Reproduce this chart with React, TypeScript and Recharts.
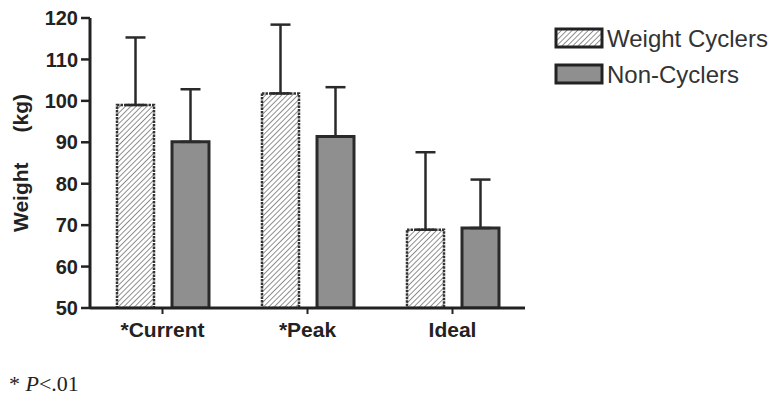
import React from "react";
import { BarChart, Bar, XAxis, YAxis, ErrorBar } from "recharts";

const categories = ["*Current", "*Peak", "Ideal"];
const cyclersMean = [99, 101.8, 68.9];
const cyclersSD = [16.3, 16.6, 18.7];
const nonCyclersMean = [90.1, 91.4, 69.3];
const nonCyclersSD = [12.7, 11.9, 11.7];
const yTicks = [50, 60, 70, 80, 90, 100, 110, 120];
const seriesNames = ["Weight Cyclers", "Non-Cyclers"];

const data = categories.map((name, i) => ({
  name,
  wc: cyclersMean[i],
  wcErr: [0, cyclersSD[i]],
  nc: nonCyclersMean[i],
  ncErr: [0, nonCyclersSD[i]],
}));

const SANS = "'Liberation Sans', Arial, Helvetica, sans-serif";
const DARK = "#222";

export default function App() {
  return (
    <div style={{ position: "absolute", left: 0, top: 0, width: 780, height: 403, background: "#fff" }}>
      <svg width={0} height={0} style={{ position: "absolute" }}>
        <defs>
          <pattern id="hatch" patternUnits="userSpaceOnUse" width={3.8} height={3.8} patternTransform="rotate(45)">
            <rect width={3.8} height={3.8} fill="#fff" />
            <line x1={0} y1={0} x2={0} y2={3.8} stroke="#555" strokeWidth={1.3} />
          </pattern>
        </defs>
      </svg>
      <BarChart
        width={780}
        height={403}
        data={data}
        margin={{ top: 18, right: 255, bottom: 65, left: 0 }}
        barSize={37}
        barGap={18}
      >
        <XAxis
          dataKey="name"
          axisLine={{ stroke: DARK, strokeWidth: 3 }}
          tickLine={{ stroke: DARK, strokeWidth: 2 }}
          tickSize={6}
          tickMargin={8}
          height={30}
          tick={{ fill: DARK, fontSize: 21, fontWeight: 700, fontFamily: SANS }}
          interval={0}
        />
        <YAxis
          domain={[50, 120]}
          ticks={yTicks}
          allowDataOverflow
          width={90}
          axisLine={{ stroke: DARK, strokeWidth: 3 }}
          tickLine={{ stroke: DARK, strokeWidth: 2.5 }}
          tickSize={9}
          tickMargin={3}
          tick={{ fill: DARK, fontSize: 20, fontWeight: 700, fontFamily: SANS }}
        />
        <Bar
          dataKey="wc"
          name={seriesNames[0]}
          fill="url(#hatch)"
          stroke="#333"
          strokeWidth={2.5}
          strokeDasharray="2.5 1"
          isAnimationActive={false}
        >
          <ErrorBar dataKey="wcErr" direction="y" width={10} stroke="#2a2a2a" strokeWidth={2.5} />
        </Bar>
        <Bar
          dataKey="nc"
          name={seriesNames[1]}
          fill="#8f8f8f"
          stroke="#2a2a2a"
          strokeWidth={3}
          isAnimationActive={false}
        >
          <ErrorBar dataKey="ncErr" direction="y" width={10} stroke="#2a2a2a" strokeWidth={2.5} />
        </Bar>
      </BarChart>
      <svg width={780} height={403} style={{ position: "absolute", left: 0, top: 0, pointerEvents: "none" }}>
        <text
          x={28}
          y={163}
          transform="rotate(-90, 28, 163)"
          textAnchor="middle"
          fontFamily={SANS}
          fontWeight={700}
          fontSize={21}
          fill={DARK}
        >
          <tspan>Weight</tspan>
          <tspan dx={30}>(kg)</tspan>
        </text>
        <rect x={556} y={29} width={46} height={18} fill="url(#hatch)" stroke="#222" strokeWidth={3} />
        <text x={607} y={47} fontFamily={SANS} fontSize={24} fill="#333">{seriesNames[0]}</text>
        <rect x={556} y={65} width={46} height={18} fill="#8f8f8f" stroke="#222" strokeWidth={3} />
        <text x={607} y={83} fontFamily={SANS} fontSize={24} fill="#333">{seriesNames[1]}</text>
        <text x={9} y={391} fontFamily="'Liberation Serif', 'Times New Roman', serif" fontSize={22} fill="#222">
          <tspan>* </tspan>
          <tspan fontStyle="italic">P</tspan>
          <tspan>&lt;.01</tspan>
        </text>
      </svg>
    </div>
  );
}
